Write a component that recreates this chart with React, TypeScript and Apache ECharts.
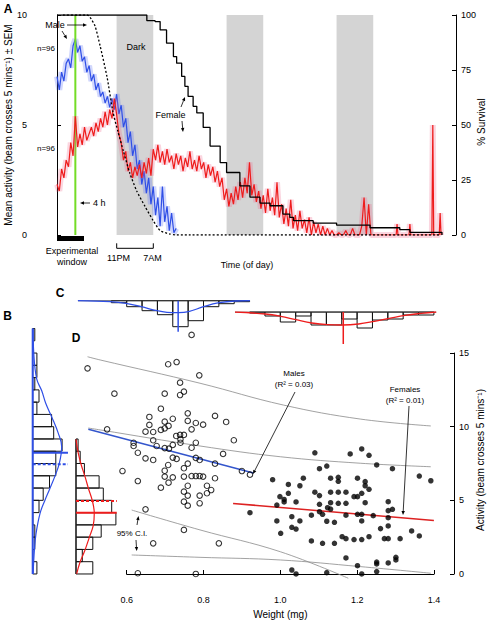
import React, { useEffect, useRef } from "react";
import * as echarts from "echarts";

const FONT = "'Liberation Sans', Arial, Helvetica, sans-serif";

// ---------- Panel A: activity through time (hours since start, 10AM) ----------
const darkPeriods = [[13, 21], [37, 45], [61, 69]];
const stimulusHour = 4;
const activityStep = 0.5; // hours between readings
const maleActivity = [7.2, 6.6, 7.4, 7.0, 7.8, 8.0, 7.6, 8.6, 8.9, 8.3, 8.6, 7.9, 8.1, 7.4, 7.7, 7.0, 7.3, 6.6, 6.9, 6.3, 6.5, 6.0, 6.3, 5.8, 6.2, 5.7, 6.4, 5.5, 5.9, 4.9, 5.3, 4.2, 4.7, 3.6, 4.1, 3.0, 3.4, 2.3, 2.9, 1.9, 2.6, 1.4, 2.2, 0.9, 1.7, 0.4, 2.2, 0.6, 1.3, 0.2, 1.0, 0.1, 0.3];
const femaleActivity = [
  2.3, 2.0, 3.0, 2.6, 3.4, 3.1, 4.2, 3.6, 5.4, 4.0,
  4.6, 4.1, 4.9, 4.3, 4.6, 4.9, 4.5, 5.1, 4.7, 5.3,
  4.9, 5.6, 5.0, 5.7, 5.3, 6.2, 5.5, 4.6, 4.2, 3.4,
  3.8, 2.9, 3.3, 2.6, 3.1, 2.7, 3.2, 2.6, 3.3, 2.8,
  3.5, 2.7, 3.9, 3.4, 4.1, 3.3, 3.8, 3.2, 3.9, 3.3,
  3.6, 3.0, 3.7, 3.2, 3.6, 2.9, 3.5, 3.1, 3.8, 3.0,
  3.4, 2.9, 3.6, 3.0, 3.3, 2.6, 3.2, 2.7, 3.1, 2.4,
  2.9, 2.2, 2.6, 1.6, 2.1, 1.3, 1.9, 1.4, 2.2, 1.6,
  2.4, 1.7, 2.6, 1.9, 3.3, 1.8, 2.3, 1.5, 2.0, 1.2,
  1.8, 1.0, 2.1, 1.1, 1.7, 0.9, 2.4, 0.8, 1.4, 0.5,
  1.2, 0.4, 1.6, 0.3, 0.9, 0.2, 1.1, 0.3, 0.7, 0.1,
  0.8, 0.0, 0.6, 0.1, 0.5, 0.0, 0.4, 0.0, 0.3, 0.0,
  0.2, 0.0, 0.0, 0.1, 0.0, 0.0, 0.2, 0.0, 0.0, 0.3,
  0.0, 0.0, 0.0, 0.4, 1.7, 0.0, 1.4, 0.0, 0.0,
];
const femaleActivityTail = [[69.5, 0], [74, 0], [74.2, 0.5], [74.4, 0], [76.8, 0], [77, 0.5], [77.2, 0], [81.8, 0], [82, 5.0], [82.2, 0], [83.4, 0], [83.6, 1.0], [83.8, 0]];
const maleSurvival = [[1.3, 100], [6.6, 100], [7.2, 99], [8.3, 95], [9.4, 86], [10.9, 72], [12.2, 56], [13.3, 47], [14.5, 38], [15.9, 28], [17.4, 20], [19.2, 13], [21.0, 6.5], [22.5, 2], [24.5, 0.5], [26, 0], [83.6, 0]];
const femaleSurvival = [[0, 100], [18.5, 100], [19.6, 97.4], [21.4, 97.0], [22.5, 93.2], [23.9, 87.2], [25.4, 81.1], [26.1, 78.1], [27.2, 72.1], [27.9, 67.6], [28.6, 63.0], [29.7, 58.5], [30.5, 55.5], [31.9, 48.9], [33.4, 40.4], [35.6, 32.9], [37.0, 28.4], [39.9, 22.3], [42.1, 17.2], [44.3, 14.5], [46.5, 13.3], [49.3, 9.5], [50.8, 8.0], [51.6, 6.5], [55.9, 5.4], [61.0, 4.5], [68.3, 3.3], [74.5, 3.3], [74.8, 2.4], [77.0, 1.2], [83.6, 1.2], [84.0, 0]];
const activityTicks = [0, 5, 10];
const survivalTicks = [0, 25, 50, 75, 100];

// ---------- Panel C: weight histograms ----------
const weightBinWidth = 0.04;
const maleWeightBinStart = 0.56;
const maleWeightCounts = [2, 6, 10, 14, 26, 20, 6, 3, 1];
const femaleWeightBinStart = 0.92;
const femaleWeightCounts = [1, 4, 10, 4, 13, 13, 7, 16, 8, 7, 3, 3];
const maleWeightCurve = [[0.473, 0], [0.557, 1], [0.598, 2.6], [0.638, 6], [0.679, 10], [0.705, 11.6], [0.735, 12], [0.761, 11], [0.8, 6], [0.841, 2], [0.882, 0.3], [0.921, 0]];
const femaleWeightCurve = [[0.882, 0], [0.961, 2], [1.001, 4.3], [1.041, 7.7], [1.082, 11], [1.123, 12.7], [1.162, 13], [1.204, 12], [1.245, 9.3], [1.284, 6.3], [1.325, 3.3], [1.367, 1.3], [1.406, 0]];
const maleWeightMean = 0.734;
const femaleWeightMean = 1.164;

// ---------- Panel B: activity histograms ----------
const activityBinWidth = 5 / 6;
const maleActivityCounts = [2, 0, 1, 1, 0, 3, 5, 8, 11, 11, 14, 10, 9, 2, 3, 1, 2, 2, 0, 1];
const femaleActivityCounts = [8, 3, 8, 12, 19, 17, 13, 11, 4, 2, 1];
const maleActivityCurve = [[0.2, 0], [0.8, 1.63], [1.6, 2.76], [3.5, 4.12], [5.7, 4.96], [8.1, 5.77], [10.5, 6.61], [12.7, 7.52], [13.8, 8.64], [12.2, 9.55], [9.0, 10.68], [6.2, 11.59], [4.3, 12.44], [1.9, 13.24], [0.5, 15.0], [0.2, 16.67]];
const femaleActivityCurve = [[0.3, 0], [1.9, 0.8], [4.3, 1.63], [6.3, 2.47], [8.2, 3.28], [8.7, 4.12], [7.8, 4.96], [6.0, 5.77], [4.3, 6.61], [2.4, 7.45], [1.0, 8.26], [0, 9.14]];
const maleActivityMean = 8.23;
const maleActivityMedian = 7.45;
const femaleActivityMean = 4.16;
const femaleActivityMedian = 4.96;

// ---------- Panel D: weight vs activity ----------
const malePoints = [
  [0.769, 16.23], [0.708, 14.24], [0.73, 14.39], [0.789, 13.49], [0.739, 12.99], [0.568, 12.24], [0.699, 12.24], [0.749, 12.38],
  [0.739, 12.15], [0.689, 11.22], [0.759, 10.91], [0.659, 10.66], [0.83, 10.73], [0.72, 10.54], [0.699, 10.34], [0.759, 10.39],
  [0.859, 10.32], [0.659, 10.12], [0.78, 10.25], [0.799, 10.14], [0.709, 10.05], [0.699, 9.89], [0.689, 9.78], [0.769, 9.82],
  [0.549, 9.82], [0.649, 9.66], [0.669, 9.64], [0.729, 9.37], [0.739, 9.44], [0.749, 9.44], [0.74, 9.14], [0.74, 8.91],
  [0.669, 9.08], [0.879, 9.08], [0.78, 8.91], [0.618, 8.91], [0.618, 8.69], [0.678, 8.69], [0.72, 8.76], [0.699, 8.55],
  [0.71, 8.51], [0.769, 8.57], [0.629, 8.23], [0.851, 8.15], [0.649, 7.85], [0.669, 7.74], [0.72, 7.9], [0.73, 7.81],
  [0.78, 7.88], [0.79, 7.74], [0.759, 7.49], [0.83, 7.49], [0.708, 7.4], [0.749, 7.18], [0.589, 6.99], [0.9, 6.99],
  [0.921, 6.74], [0.699, 7.01], [0.72, 6.56], [0.699, 6.61], [0.749, 6.61], [0.769, 6.65], [0.78, 6.65], [0.79, 6.65],
  [0.799, 6.61], [0.83, 6.5], [0.629, 6.31], [0.709, 6.2], [0.759, 5.99], [0.809, 5.99], [0.689, 5.86], [0.82, 5.7],
  [0.749, 5.59], [0.809, 5.48], [0.759, 5.32], [0.79, 5.32], [0.749, 4.91], [0.79, 4.8], [0.759, 4.64], [0.649, 4.39],
  [0.749, 2.99], [0.669, 2.08], [0.84, 2.08], [0.629, 0.05], [0.78, 0.0], [0.498, 13.96],
];
const femalePoints = [
  [1.09, 8.23], [1.182, 8.15], [1.212, 8.49], [1.231, 8.06], [1.251, 7.4], [1.292, 7.15], [1.102, 7.15], [1.121, 7.33],
  [1.362, 6.65], [1.392, 6.33], [0.98, 6.4], [1.021, 6.08], [1.051, 5.99], [1.06, 6.5], [1.131, 6.5], [1.151, 6.56],
  [1.151, 6.29], [1.201, 6.5], [1.221, 6.27], [1.221, 5.99], [1.231, 5.75], [0.999, 5.25], [1.01, 5.06], [1.01, 4.89],
  [1.021, 5.48], [1.041, 4.89], [1.09, 5.55], [1.102, 5.32], [1.131, 5.55], [1.151, 5.55], [1.171, 5.55], [1.192, 5.25],
  [1.201, 5.25], [1.212, 5.48], [1.221, 4.84], [1.131, 4.84], [1.151, 4.8], [1.171, 4.8], [1.102, 4.73], [1.123, 4.5],
  [1.131, 4.41], [1.281, 4.91], [1.281, 4.3], [1.292, 4.39], [0.991, 4.68], [1.171, 3.99], [1.201, 4.05], [1.212, 4.05],
  [1.242, 3.96], [1.081, 3.99], [1.102, 4.23], [1.11, 4.05], [1.121, 3.58], [1.141, 3.51], [0.991, 3.6], [1.051, 3.6],
  [1.03, 3.89], [1.03, 3.17], [1.041, 3.05], [1.001, 2.76], [1.212, 3.6], [1.281, 3.82], [1.261, 3.08], [1.342, 2.92],
  [1.362, 2.58], [1.281, 3.26], [1.161, 2.53], [1.171, 2.4], [1.192, 2.34], [1.081, 2.24], [1.11, 2.08], [1.141, 2.08],
  [1.212, 2.34], [1.231, 2.53], [1.271, 2.4], [1.281, 2.4], [1.312, 2.4], [1.171, 1.09], [1.201, 0.56], [1.251, 0.81],
  [1.251, 0.68], [1.281, 0.75], [1.301, 1.13], [1.301, 0.95], [1.251, 0.16], [1.212, 0.0], [1.121, 0.09], [1.03, 0.27],
  [1.041, 0.0], [0.921, 4.16],
];
const maleFit = [[0.5, 9.83], [0.93, 6.85]];
const femaleFit = [[0.877, 4.79], [1.4, 3.63]];
const ciUpperMale = [[0.498, 14.75], [0.531, 14.53], [0.791, 12.95], [1.008, 11.47], [1.208, 10.52], [1.392, 10.05]];
const ciUpperFemale = [[0.5, 9.91], [0.531, 9.78], [0.791, 8.69], [1.0, 7.96], [1.208, 7.52], [1.392, 7.28]];
const ciLowerMale = [[0.613, 4.34], [0.791, 2.99], [1.0, 1.51], [1.177, -0.29]];
const ciLowerFemale = [[0.613, 1.29], [0.791, 1.13], [1.0, 0.95], [1.208, 0.5], [1.392, 0.05]];
const weightTicks = [0.6, 0.8, 1.0, 1.2, 1.4];
const activityAxisTicks = [0, 5, 10, 15];

const BLUE = "#2f4fe6";
const RED = "#ee1c1c";
const B_SCALE_MAX = 50 / 2.1;

function txt(text: string, x: number, y: number, size = 9, align = "center", weight = "normal", rotation = 0) {
  return {
    type: "text", x, y, z: 100, rotation,
    style: { text, fontSize: size, fontFamily: FONT, fontWeight: weight, fill: "#000", align, textAlign: align, verticalAlign: "middle", textVerticalAlign: "middle" },
  };
}
function arrow(x1: number, y1: number, x2: number, y2: number) {
  const ang = Math.atan2(y2 - y1, x2 - x1);
  const L = 4, W = 1.7;
  const bx = x2 - L * Math.cos(ang), by = y2 - L * Math.sin(ang);
  const px = -Math.sin(ang) * W, py = Math.cos(ang) * W;
  return [
    { type: "line", z: 100, shape: { x1, y1, x2: bx, y2: by }, style: { stroke: "#000", lineWidth: 0.8 } },
    { type: "polygon", z: 100, shape: { points: [[x2, y2], [bx + px, by + py], [bx - px, by - py]] }, style: { fill: "#000" } },
  ];
}

const axisLabelStyle = { fontSize: 9, fontFamily: FONT, color: "#000" };
const nameStyle = { fontSize: 10, fontFamily: FONT, color: "#000" };
const lineAx = { show: true, lineStyle: { color: "#000", width: 1 } };
const tickAx = { show: true, inside: true, length: 4, lineStyle: { color: "#000", width: 1 } };

function vHist(params: any, api: any) {
  const a = api.coord([api.value(0), 0]);
  const b = api.coord([api.value(1), api.value(2)]);
  return {
    type: "rect",
    shape: { x: Math.min(a[0], b[0]), y: Math.min(a[1], b[1]), width: Math.abs(b[0] - a[0]), height: Math.abs(b[1] - a[1]) },
    style: { fill: "none", stroke: "#111", lineWidth: 1 },
  };
}
function hHist(params: any, api: any) {
  const a = api.coord([0, api.value(0)]);
  const b = api.coord([api.value(2), api.value(1)]);
  return {
    type: "rect",
    shape: { x: Math.min(a[0], b[0]), y: Math.min(a[1], b[1]), width: Math.abs(b[0] - a[0]), height: Math.abs(b[1] - a[1]) },
    style: { fill: "none", stroke: "#111", lineWidth: 1 },
  };
}

export default function App() {
  const ref = useRef<HTMLDivElement>(null);
  useEffect(() => {
    if (!ref.current) return;
    const chart = echarts.init(ref.current, undefined, { renderer: "svg" });

    const maleA = maleActivity.map((v, i) => [i * activityStep, v]);
    const femaleA = femaleActivity.map((v, i) => [i * activityStep, v]).concat(femaleActivityTail);
    const cMale = maleWeightCounts.map((c, i) => [maleWeightBinStart + i * weightBinWidth, maleWeightBinStart + (i + 1) * weightBinWidth, c]);
    const cFemale = femaleWeightCounts.map((c, i) => [femaleWeightBinStart + i * weightBinWidth, femaleWeightBinStart + (i + 1) * weightBinWidth, c]);
    const bMale = maleActivityCounts.map((c, i) => [i * activityBinWidth, (i + 1) * activityBinWidth, c]);
    const bFemale = femaleActivityCounts.map((c, i) => [i * activityBinWidth, (i + 1) * activityBinWidth, c]);
    const maleTop = maleActivityCounts.length * activityBinWidth;
    const femaleTop = femaleActivityCounts.length * activityBinWidth;

    const line = (extra: any) => ({ type: "line", symbol: "none", silent: true, animation: false, ...extra });

    const graphics: any[] = [
      txt("A", 8, 9, 12, "center", "bold"),
      txt("Mean activity (beam crosses 5 mins\u207B\u00B9) \u00B1 SEM", 8, 125, 10, "center", "normal", Math.PI / 2),
      txt("% Survival", 481, 122, 10, "center", "normal", Math.PI / 2),
      txt("Activity (beam crosses 5 mins\u207B\u00B9)", 480, 460, 10, "center", "normal", Math.PI / 2),
      txt("Male", 55, 25, 9),
      ...arrow(67, 25, 87, 25),
      ...arrow(62, 31, 67, 39),
      txt("n=96", 46, 48, 8),
      txt("n=96", 46, 148, 8),
      txt("Dark", 136, 47, 9),
      txt("Female", 170.5, 115, 9),
      ...arrow(181, 107, 185, 97),
      ...arrow(182, 121, 183, 132),
      ...arrow(90, 203, 80, 203),
      txt("4 h", 93, 203, 9, "left"),
      { type: "rect", z: 100, shape: { x: 57, y: 236, width: 27, height: 5 }, style: { fill: "#000" } },
      txt("Experimental", 72, 251, 9),
      txt("window", 72, 262, 9),
      { type: "polyline", z: 100, shape: { points: [[116.7, 243.3], [116.7, 248.3], [153.3, 248.3], [153.3, 243.3]] }, style: { stroke: "#000", lineWidth: 1, fill: "none" } },
      txt("11PM", 118.5, 258, 9),
      txt("7AM", 152.5, 258, 9),
      txt("Time (of day)", 247, 265, 9),
      txt("C", 60, 293, 12, "center", "bold"),
      txt("B", 7.5, 315.5, 12, "center", "bold"),
      txt("D", 76, 337.5, 12, "center", "bold"),
      txt("Males", 294, 373, 8),
      txt("(R\u00B2 = 0.03)", 294, 384.5, 8),
      ...arrow(295, 392, 253, 474),
      txt("Females", 405, 389, 8),
      txt("(R\u00B2 = 0.01)", 405, 400.5, 8),
      ...arrow(409, 406, 403, 515),
      txt("95% C.I.", 132, 533, 8),
      ...arrow(137, 525, 138.5, 516),
      ...arrow(136, 540, 136.7, 551),
    ];

    const hidden = (gridIndex: number, min: number, max: number, extra: any = {}) => ({ type: "value", gridIndex, min, max, show: false, ...extra });

    chart.setOption({
      animation: false,
      textStyle: { fontFamily: FONT },
      grid: [
        { left: 33, top: 15, width: 423, height: 220, outerBoundsMode: "none" },
        { left: 69.1, top: 300.7, width: 384, height: 35, outerBoundsMode: "none" },
        { left: 69.1, top: 312, width: 384, height: 40, outerBoundsMode: "none" },
        { left: 32.7, top: 323.6, width: 50, height: 265.1, outerBoundsMode: "none" },
        { left: 76, top: 323.6, width: 50, height: 265.1, outerBoundsMode: "none" },
        { left: 69.1, top: 323.6, width: 384, height: 265.1, outerBoundsMode: "none" },
        { left: 126.7, top: 353, width: 307.3, height: 221, outerBoundsMode: "none" },
      ],
      xAxis: [
        hidden(0, -5.24, 87.06),
        hidden(1, 0.45, 1.45),
        hidden(2, 0.45, 1.45),
        hidden(3, 0, B_SCALE_MAX),
        hidden(4, 0, B_SCALE_MAX),
        hidden(5, 0.45, 1.45),
        {
          type: "value", gridIndex: 6, min: weightTicks[0], max: weightTicks[weightTicks.length - 1], interval: 0.2, offset: 15,
          axisLine: lineAx, axisTick: tickAx, splitLine: { show: false },
          axisLabel: { ...axisLabelStyle, margin: 6, formatter: (v: number) => v.toFixed(1) },
          name: "Weight (mg)", nameLocation: "middle", nameGap: 20, nameTextStyle: nameStyle, nameMoveOverlap: false,
        },
      ],
      yAxis: [
        {
          type: "value", gridIndex: 0, min: activityTicks[0], max: activityTicks[activityTicks.length - 1], interval: 5, position: "left",
          axisLine: lineAx, axisTick: tickAx, splitLine: { show: false }, axisLabel: { ...axisLabelStyle, margin: 6 },
        },
        {
          type: "value", gridIndex: 0, min: survivalTicks[0], max: survivalTicks[survivalTicks.length - 1], interval: 25, position: "right",
          axisLine: lineAx, axisTick: tickAx, splitLine: { show: false }, axisLabel: { ...axisLabelStyle, margin: 5 },
        },
        hidden(1, 0, 35, { inverse: true }),
        hidden(2, 0, 40, { inverse: true }),
        hidden(3, -1, 17),
        hidden(4, -1, 17),
        hidden(5, -1, 17),
        {
          type: "value", gridIndex: 6, min: activityAxisTicks[0], max: activityAxisTicks[activityAxisTicks.length - 1], interval: 5, position: "right", offset: 20,
          axisLine: lineAx, axisTick: tickAx, splitLine: { show: false }, axisLabel: { ...axisLabelStyle, margin: 5 },
        },
      ],
      series: [
        // ----- A -----
        {
          type: "custom", xAxisIndex: 0, yAxisIndex: 0, data: darkPeriods, silent: true, encode: { x: [0, 1] }, z: 1,
          renderItem: (p: any, api: any) => {
            const a = api.coord([api.value(0), activityTicks[activityTicks.length - 1]]);
            const b = api.coord([api.value(1), 0]);
            return { type: "rect", shape: { x: a[0], y: a[1], width: b[0] - a[0], height: b[1] - a[1] }, style: { fill: "#d4d4d4" } };
          },
        },
        line({ xAxisIndex: 0, yAxisIndex: 0, data: maleA, z: 2, lineStyle: { color: "rgba(90,110,245,0.28)", width: 6 } }),
        line({ xAxisIndex: 0, yAxisIndex: 0, data: maleA, z: 3, lineStyle: { color: BLUE, width: 1.2 } }),
        line({ xAxisIndex: 0, yAxisIndex: 0, data: [[stimulusHour, 0], [stimulusHour, 10]], z: 3, lineStyle: { color: "#74dc26", width: 2 } }),
        line({ xAxisIndex: 0, yAxisIndex: 0, data: femaleA, z: 3, lineStyle: { color: "rgba(240,90,130,0.25)", width: 6 } }),
        line({ xAxisIndex: 0, yAxisIndex: 0, data: femaleA, z: 4, lineStyle: { color: RED, width: 1.2 } }),
        line({ xAxisIndex: 0, yAxisIndex: 1, data: maleSurvival, z: 5, smooth: 0.2, lineStyle: { color: "#000", width: 1.3, type: [2, 2] } }),
        line({ xAxisIndex: 0, yAxisIndex: 1, data: femaleSurvival, z: 5, step: "end", lineStyle: { color: "#000", width: 1.3 } }),
        // ----- C -----
        { type: "custom", xAxisIndex: 1, yAxisIndex: 2, data: cMale, renderItem: vHist, encode: { x: [0, 1], y: 2 }, silent: true },
        line({ xAxisIndex: 1, yAxisIndex: 2, data: [[maleWeightCurve[0][0], 0], [maleWeightCurve[maleWeightCurve.length - 1][0], 0]], lineStyle: { color: "#333", width: 1 } }),
        line({ xAxisIndex: 1, yAxisIndex: 2, data: maleWeightCurve, smooth: 0.4, lineStyle: { color: BLUE, width: 1.3 } }),
        line({ xAxisIndex: 1, yAxisIndex: 2, data: [[maleWeightMean, 0], [maleWeightMean, 31]], lineStyle: { color: BLUE, width: 1.5 } }),
        { type: "custom", xAxisIndex: 2, yAxisIndex: 3, data: cFemale, renderItem: vHist, encode: { x: [0, 1], y: 2 }, silent: true },
        line({ xAxisIndex: 2, yAxisIndex: 3, data: [[femaleWeightCurve[0][0], 0], [femaleWeightCurve[femaleWeightCurve.length - 1][0], 0]], lineStyle: { color: "#333", width: 1 } }),
        line({ xAxisIndex: 2, yAxisIndex: 3, data: femaleWeightCurve, smooth: 0.4, lineStyle: { color: RED, width: 1.3 } }),
        line({ xAxisIndex: 2, yAxisIndex: 3, data: [[femaleWeightMean, 0], [femaleWeightMean, 32]], lineStyle: { color: RED, width: 1.5 } }),
        // ----- B -----
        { type: "custom", xAxisIndex: 3, yAxisIndex: 4, data: bMale, renderItem: hHist, encode: { y: [0, 1], x: 2 }, silent: true },
        line({ xAxisIndex: 3, yAxisIndex: 4, data: [[0, 0], [0, maleTop]], lineStyle: { color: BLUE, width: 2 } }),
        line({ xAxisIndex: 3, yAxisIndex: 4, data: maleActivityCurve, smooth: 0.4, lineStyle: { color: BLUE, width: 1.2 } }),
        line({ xAxisIndex: 3, yAxisIndex: 4, data: [[0, maleActivityMean], [16.8, maleActivityMean]], lineStyle: { color: BLUE, width: 2 } }),
        line({ xAxisIndex: 3, yAxisIndex: 4, data: [[0, maleActivityMedian], [16.8, maleActivityMedian]], lineStyle: { color: BLUE, width: 2, type: [3, 2] } }),
        { type: "custom", xAxisIndex: 4, yAxisIndex: 5, data: bFemale, renderItem: hHist, encode: { y: [0, 1], x: 2 }, silent: true },
        line({ xAxisIndex: 4, yAxisIndex: 5, data: [[0, 0], [0, femaleTop]], lineStyle: { color: "#222", width: 1.2 } }),
        line({ xAxisIndex: 4, yAxisIndex: 5, data: femaleActivityCurve, smooth: 0.4, lineStyle: { color: RED, width: 1.2 } }),
        line({ xAxisIndex: 4, yAxisIndex: 5, data: [[0, femaleActivityMean], [19.4, femaleActivityMean]], lineStyle: { color: RED, width: 2 } }),
        line({ xAxisIndex: 4, yAxisIndex: 5, data: [[0, femaleActivityMedian], [19.4, femaleActivityMedian]], lineStyle: { color: RED, width: 2, type: [3, 2] } }),
        // ----- D -----
        line({ xAxisIndex: 5, yAxisIndex: 6, data: ciUpperMale, smooth: 0.4, lineStyle: { color: "#8a8a8a", width: 0.8 } }),
        line({ xAxisIndex: 5, yAxisIndex: 6, data: ciUpperFemale, smooth: 0.4, lineStyle: { color: "#8a8a8a", width: 0.8 } }),
        line({ xAxisIndex: 5, yAxisIndex: 6, data: ciLowerMale, smooth: 0.4, lineStyle: { color: "#8a8a8a", width: 0.8 } }),
        line({ xAxisIndex: 5, yAxisIndex: 6, data: ciLowerFemale, smooth: 0.4, lineStyle: { color: "#8a8a8a", width: 0.8 } }),
        line({ xAxisIndex: 5, yAxisIndex: 6, data: maleFit, lineStyle: { color: "#3355cc", width: 1.5 } }),
        line({ xAxisIndex: 5, yAxisIndex: 6, data: femaleFit, lineStyle: { color: "#dd2222", width: 1.5 } }),
        {
          type: "scatter", xAxisIndex: 5, yAxisIndex: 6, data: malePoints, symbol: "circle", symbolSize: 5.5, silent: true, z: 6,
          itemStyle: { color: "rgba(255,255,255,0)", borderColor: "#000", borderWidth: 1.1 },
        },
        {
          type: "scatter", xAxisIndex: 5, yAxisIndex: 6, data: femalePoints, symbol: "circle", symbolSize: 5.5, silent: true, z: 6,
          itemStyle: { color: "#000" },
        },
      ],
      graphic: { elements: graphics },
    });
    return () => chart.dispose();
  }, []);
  return <div ref={ref} style={{ position: "absolute", left: 0, top: 0, width: 488, height: 621, background: "#fff" }} />;
}
